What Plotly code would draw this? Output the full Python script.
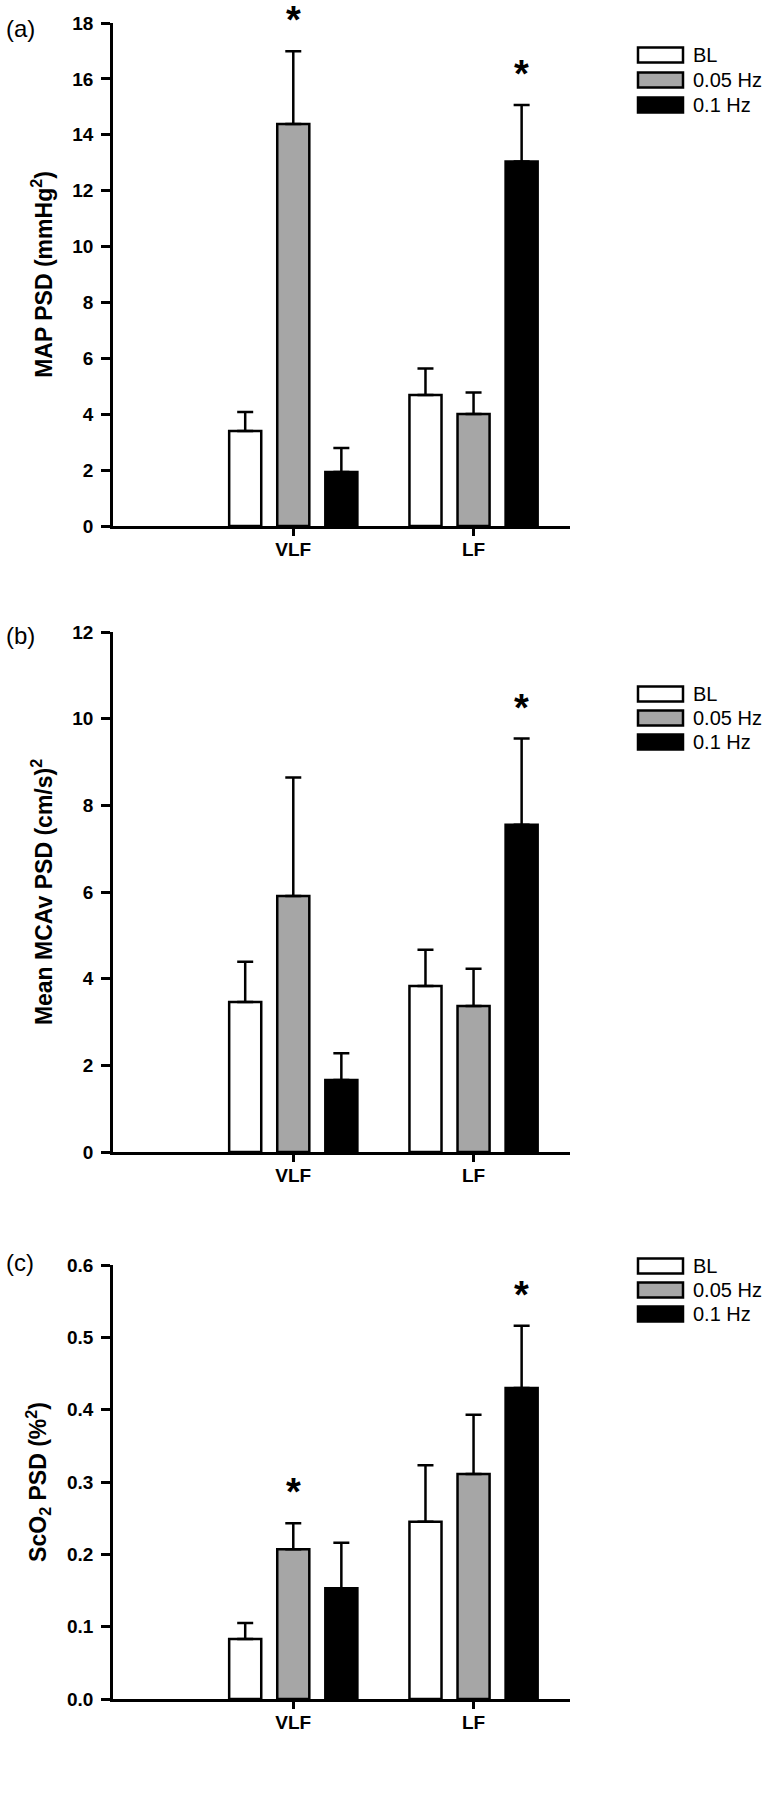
import plotly.graph_objects as go

# ---------------- data ----------------
categories = ["VLF", "LF"]
series_names = ["BL", "0.05 Hz", "0.1 Hz"]

# Panel (a) MAP PSD
a_means = {"BL": [3.40, 4.69], "0.05 Hz": [14.39, 4.01], "0.1 Hz": [1.93, 13.04]}
a_sem = {"BL": [0.68, 0.95], "0.05 Hz": [2.60, 0.77], "0.1 Hz": [0.86, 2.03]}
a_sig = {"BL": [False, False], "0.05 Hz": [True, False], "0.1 Hz": [False, True]}

# Panel (b) Mean MCAv PSD
b_means = {"BL": [3.46, 3.83], "0.05 Hz": [5.91, 3.37], "0.1 Hz": [1.66, 7.55]}
b_sem = {"BL": [0.93, 0.84], "0.05 Hz": [2.73, 0.86], "0.1 Hz": [0.62, 1.99]}
b_sig = {"BL": [False, False], "0.05 Hz": [False, False], "0.1 Hz": [False, True]}

# Panel (c) ScO2 PSD
c_means = {"BL": [0.083, 0.245], "0.05 Hz": [0.207, 0.311], "0.1 Hz": [0.153, 0.430]}
c_sem = {"BL": [0.022, 0.078], "0.05 Hz": [0.036, 0.082], "0.1 Hz": [0.063, 0.086]}
c_sig = {"BL": [False, False], "0.05 Hz": [True, False], "0.1 Hz": [False, True]}

panel_labels = ["(a)", "(b)", "(c)"]
y_titles = ["MAP PSD (mmHg<sup>2</sup>)",
            "Mean MCAv PSD (cm/s)<sup>2</sup>",
            "ScO<sub>2</sub> PSD (%<sup>2</sup>)"]
y_ranges = [[0, 18], [0, 12], [0, 0.6]]
y_dticks = [2, 2, 0.1]
y_formats = ["d", "d", ".1f"]

# ---------------- style ----------------
FONT = "Liberation Sans, Arial, Helvetica, sans-serif"
colors = {"BL": "#ffffff", "0.05 Hz": "#a6a6a6", "0.1 Hz": "#000000"}
W, H = 769, 1800
L, R = 113, 570
tops = [23, 632, 1265]
bottoms = [526, 1152, 1699]
legend_rows = [[55, 80, 105], [694, 718, 742], [1266, 1290, 1314]]
label_y = [29, 636, 1262]

bargap = 0.2
bargroupgap = 0.333
cat_pos = [1, 2]

def xp(px):
    return (px - L) / (R - L)

def yp(py):
    return 1 - py / H

fig = go.Figure()
panels = [(a_means, a_sem, a_sig), (b_means, b_sem, b_sig), (c_means, c_sem, c_sig)]
annotations = []
shapes = []
slot = (1 - bargap) / len(series_names)

for p, (means, sems, sigs) in enumerate(panels):
    xa = "x" if p == 0 else f"x{p+1}"
    ya = "y" if p == 0 else f"y{p+1}"
    for i, name in enumerate(series_names):
        fig.add_trace(go.Bar(
            x=cat_pos, y=means[name], name=name, xaxis=xa, yaxis=ya,
            marker=dict(color=colors[name], line=dict(color="black", width=2.5)),
            error_y=dict(type="data", symmetric=False, array=sems[name],
                         arrayminus=[0] * len(cat_pos), color="black",
                         thickness=2.5, width=8),
            showlegend=False,
        ))
        off = (i - (len(series_names) - 1) / 2) * slot
        for j, c in enumerate(cat_pos):
            if sigs[name][j]:
                annotations.append(dict(
                    x=c + off, y=means[name][j] + sems[name][j], xref=xa, yref=ya,
                    text="<b>*</b>", showarrow=False, yanchor="middle", yshift=31,
                    borderpad=0,
                    font=dict(family=FONT, size=38, color="black"),
                ))
    # legend (drawn)
    for i, name in enumerate(series_names):
        yc = legend_rows[p][i]
        shapes.append(dict(type="rect", xref="paper", yref="paper",
                           x0=xp(638), x1=xp(683), y0=yp(yc - 7.5), y1=yp(yc + 7.5),
                           fillcolor=colors[name], line=dict(color="black", width=2.5)))
        annotations.append(dict(x=xp(691), y=yp(yc), xref="paper", yref="paper",
                                text=name, showarrow=False, xanchor="left", yanchor="middle",
                                font=dict(family=FONT, size=20, color="black")))
    annotations.append(dict(x=xp(4), y=yp(label_y[p]), xref="paper", yref="paper",
                            text=panel_labels[p], showarrow=False, xanchor="left",
                            yanchor="middle", font=dict(family=FONT, size=24, color="black")))

layout = dict(
    width=W, height=H, template="none",
    paper_bgcolor="white", plot_bgcolor="white",
    margin=dict(l=L, r=W - R, t=0, b=0),
    barmode="group", bargap=bargap, bargroupgap=bargroupgap,
    showlegend=False, annotations=annotations, shapes=shapes,
    font=dict(family=FONT, color="black"),
)
for p in range(3):
    xkey = "xaxis" if p == 0 else f"xaxis{p+1}"
    ykey = "yaxis" if p == 0 else f"yaxis{p+1}"
    ya = "y" if p == 0 else f"y{p+1}"
    xa = "x" if p == 0 else f"x{p+1}"
    layout[xkey] = dict(
        domain=[0, 1], anchor=ya, range=[0, 2.535],
        tickvals=cat_pos, ticktext=categories,
        showline=True, linecolor="black", linewidth=2.5,
        ticks="outside", ticklen=7, tickwidth=2.5, tickcolor="black",
        showgrid=False, zeroline=False, automargin=False,
        tickfont=dict(family=FONT, size=19, color="black", weight="bold"),
        ticklabelstandoff=-3,
    )
    layout[ykey] = dict(
        domain=[yp(bottoms[p]), yp(tops[p])], anchor=xa, range=y_ranges[p],
        dtick=y_dticks[p], tick0=0, tickformat=y_formats[p],
        showline=True, linecolor="black", linewidth=2.5,
        ticks="outside", ticklen=9, tickwidth=2.5, tickcolor="black",
        showgrid=False, zeroline=False, automargin=False,
        tickfont=dict(family=FONT, size=19, color="black", weight="bold"),
        ticklabelstandoff=4,
        title=dict(text=y_titles[p], standoff=14,
                   font=dict(family=FONT, size=23, color="black", weight="bold")),
    )
fig.update_layout(**layout)
fig.write_html("out.html", config={"displayModeBar": False},
               post_script="document.body.style.margin='0';document.body.style.overflow='hidden';")
